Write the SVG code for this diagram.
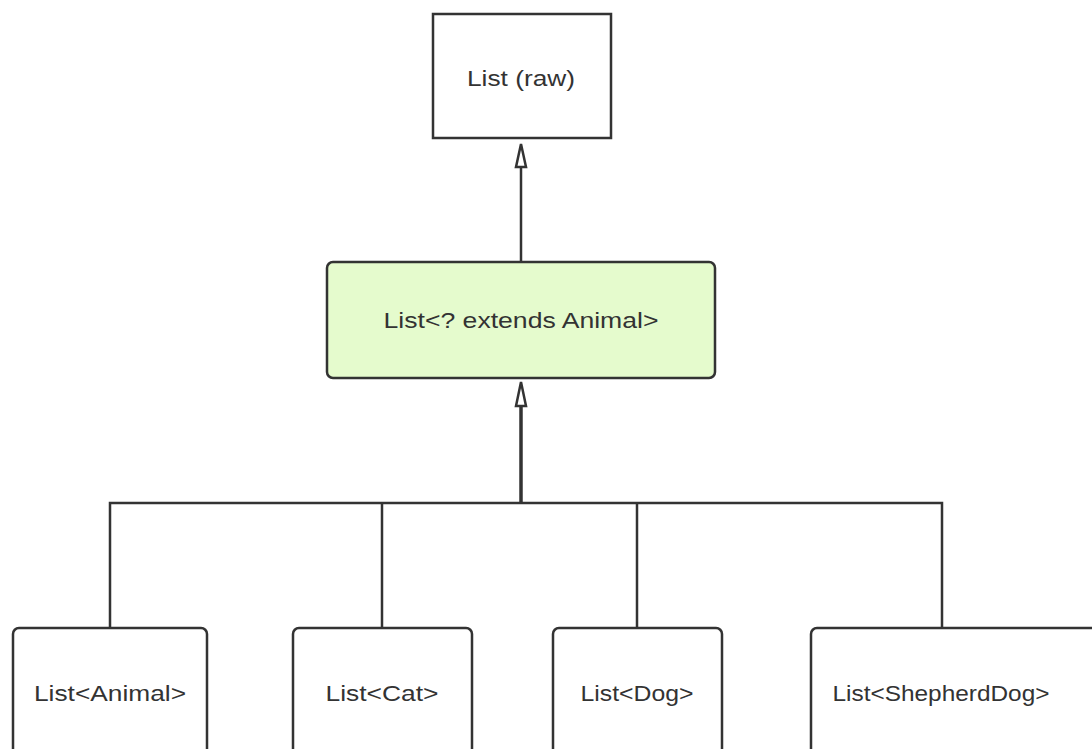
<svg xmlns="http://www.w3.org/2000/svg" width="1092" height="749" viewBox="0 0 1092 749">
<style>
.box{fill:#ffffff;stroke:#333333;stroke-width:2.5}
.green{fill:#e5fbcd}
.lbl{font-family:"Liberation Sans",Arial,sans-serif;font-size:22px;fill:#333333;text-anchor:middle;dominant-baseline:central}
.edge{fill:none;stroke:#333333;stroke-width:2.5}
.thick{stroke-width:3.5}
.head{fill:#ffffff;stroke:#333333;stroke-width:2.5}
</style>
<rect width="1092" height="749" fill="#ffffff"/>
<g id="connectors">
<path class="edge" d="M521,262 L521,167"/>
<path class="head" d="M521,144 L516,167 L526,167 Z"/>
<path class="edge thick" d="M521,503 L521,406"/>
<path class="head" d="M521,382 L516,406 L526,406 Z"/>
<path class="edge" d="M110,628 L110,503 L942,503 L942,628"/>
<path class="edge" d="M382,503 L382,628"/>
<path class="edge" d="M637,503 L637,628"/>
</g>
<g id="node-raw">
<rect class="box" x="433" y="14" width="178" height="124"/>
<text class="lbl" x="521" y="78" textLength="108" lengthAdjust="spacingAndGlyphs">List (raw)</text>
</g>
<g id="node-extends">
<rect class="box green" x="327" y="262" width="388" height="116" rx="6"/>
<text class="lbl" x="521" y="320" textLength="275" lengthAdjust="spacingAndGlyphs">List&lt;? extends Animal&gt;</text>
</g>
<g id="node-animal">
<rect class="box" x="13" y="628" width="194" height="140" rx="6"/>
<text class="lbl" x="110" y="693" textLength="152" lengthAdjust="spacingAndGlyphs">List&lt;Animal&gt;</text>
</g>
<g id="node-cat">
<rect class="box" x="293" y="628" width="179" height="140" rx="6"/>
<text class="lbl" x="382" y="693" textLength="113" lengthAdjust="spacingAndGlyphs">List&lt;Cat&gt;</text>
</g>
<g id="node-dog">
<rect class="box" x="553" y="628" width="169" height="140" rx="6"/>
<text class="lbl" x="637" y="693" textLength="113" lengthAdjust="spacingAndGlyphs">List&lt;Dog&gt;</text>
</g>
<g id="node-shepherddog">
<rect class="box" x="811" y="628" width="300" height="140" rx="6"/>
<text class="lbl" x="941" y="693" textLength="217" lengthAdjust="spacingAndGlyphs">List&lt;ShepherdDog&gt;</text>
</g>
</svg>
